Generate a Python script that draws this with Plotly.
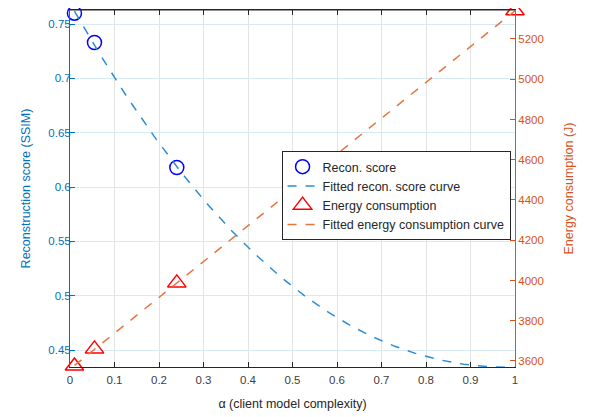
import numpy as np
import plotly.graph_objects as go

alpha = [0.01, 0.055, 0.24, 1.0]
recon_score = [0.760, 0.733, 0.618, 0.434]
energy = [3575, 3660, 3988, 5340]
x_ticks = [0, 0.1, 0.2, 0.3, 0.4, 0.5, 0.6, 0.7, 0.8, 0.9, 1]
left_ticks = [0.45, 0.5, 0.55, 0.6, 0.65, 0.7, 0.75]
right_ticks = [3600, 3800, 4000, 4200, 4400, 4600, 4800, 5000, 5200]

xa = np.array(alpha)
ya = np.array(recon_score)
xf = np.linspace(xa.min(), xa.max(), 200)
# least-squares fit of y = a + b*(1-x)^c for the reconstruction score
best = None
for c in np.linspace(1.5, 3.0, 151):
    A = np.vstack([np.ones_like(xa), (1 - xa) ** c]).T
    coef, *_ = np.linalg.lstsq(A, ya, rcond=None)
    err = np.sum((A @ coef - ya) ** 2)
    if best is None or err < best[0]:
        best = (err, c, coef)
_, cexp, coef = best
recon_fit = coef[0] + coef[1] * (1 - xf) ** cexp
ec = np.polyfit(alpha, energy, 1)

BLUE_AX = "#0072BD"
ORANGE = "#D95319"
FONT = "Liberation Sans, Arial, sans-serif"

fig = go.Figure()
fig.add_trace(go.Scatter(x=alpha, y=recon_score, mode="markers", name="Recon. score",
                         marker=dict(symbol="circle-open", size=14, color="#0000FF", line=dict(width=1.5)),
                         cliponaxis=False))
fig.add_trace(go.Scatter(x=xf, y=recon_fit, mode="lines", name="Fitted recon. score curve",
                         line=dict(color="#2B8CD6", dash="dash", width=1.5)))
fig.add_trace(go.Scatter(x=alpha, y=energy, mode="markers", name="Energy consumption", yaxis="y2",
                         marker=dict(symbol="triangle-up-open", size=16, color="#FF0000", line=dict(width=1.5)),
                         cliponaxis=False))
fig.add_trace(go.Scatter(x=xf, y=np.polyval(ec, xf), mode="lines", name="Fitted energy consumption curve",
                         yaxis="y2", line=dict(color="#E8743B", dash="dash", width=1.5)))

fig.update_layout(
    width=584, height=409,
    margin=dict(l=62, r=77, t=2, b=50),
    paper_bgcolor="white", plot_bgcolor="white",
    font=dict(family=FONT, size=11, color="#404040"),
    xaxis=dict(range=[0, 1], tickvals=x_ticks, ticktext=[f"{v:g}" for v in x_ticks],
               showgrid=True, gridcolor="#E3E3E3", ticks="inside", ticklen=5, tickcolor="#262626",
               showline=True, linecolor="#262626", mirror="ticks", zeroline=False, automargin=False,
               tickfont=dict(size=11.5, color="#404040"), ticklabelstandoff=2,
               title=dict(text="α (client model complexity)", font=dict(size=12.5, color="#262626"), standoff=14)),
    yaxis=dict(range=[0.4344, 0.7629], tickvals=left_ticks, ticktext=[f"{v:g}" for v in left_ticks],
               showgrid=True, gridcolor="#D6E9F7", ticks="inside", ticklen=5, tickcolor=BLUE_AX,
               showline=True, linecolor=BLUE_AX, zeroline=False, automargin=False,
               tickfont=dict(size=11.5, color=BLUE_AX), ticklabelstandoff=-4,
               title=dict(text="Reconstruction score (SSIM)", font=dict(size=12.5, color=BLUE_AX), standoff=14)),
    yaxis2=dict(range=[3570, 5344], tickvals=right_ticks, overlaying="y", side="right",
                showgrid=False, ticks="inside", ticklen=5, tickcolor=ORANGE,
                showline=True, linecolor=ORANGE, zeroline=False, automargin=False,
                tickfont=dict(size=11.5, color=ORANGE),
                title=dict(text="Energy consumption (J)", font=dict(size=12.5, color=ORANGE), standoff=21)),
    legend=dict(x=0.99, y=0.605, xanchor="right", yanchor="top", bgcolor="white",
                bordercolor="#262626", borderwidth=1, font=dict(size=12.5, color="#262626"),
                tracegroupgap=0, itemwidth=30),
    showlegend=True,
)
fig.add_shape(type="line", xref="paper", yref="paper", x0=0, x1=1, y0=1, y1=1,
              line=dict(color="#262626", width=1))

fig.write_html("out.html")
